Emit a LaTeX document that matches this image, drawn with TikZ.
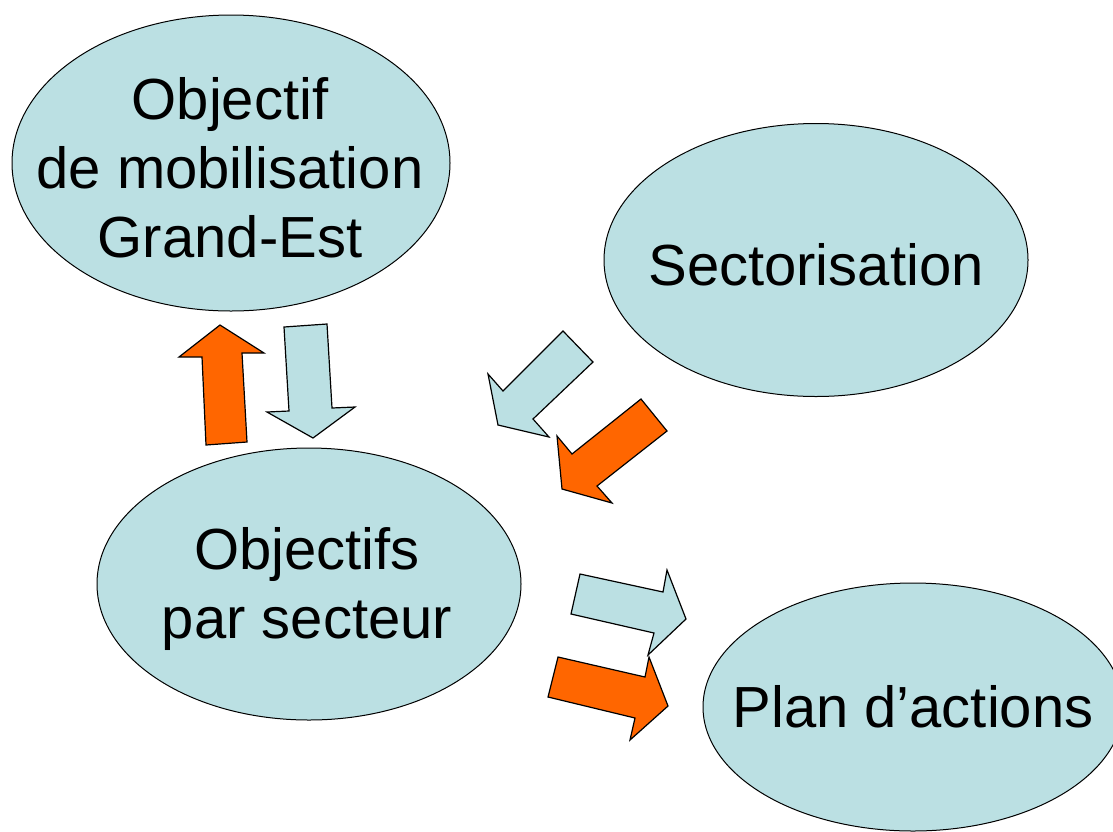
\documentclass[tikz,border=0pt]{standalone}
\usepackage{fontspec}
\setmainfont{Liberation Sans}
\usetikzlibrary{shapes.geometric}

\definecolor{paleblue}{HTML}{BBE0E3}
\definecolor{flame}{HTML}{FF6600}

\tikzset{
    bubble/.style={ellipse, draw=black, fill=paleblue, line width=1pt, inner sep=0pt},
    bubbletext/.style={align=center, inner sep=0pt, font=\fontsize{58}{69}\selectfont},
    bluearrow/.style={fill=paleblue, draw=black, line width=1.2pt},
    orangearrow/.style={fill=flame, draw=black, line width=1.2pt}
}

\begin{document}
\begin{tikzpicture}[x=1pt, y=-1pt]
    \useasboundingbox (0,0) rectangle (1113,831);

    % the four stages
    \node[bubble, minimum width=438pt, minimum height=296pt] (mobil) at (231,163) {};
    \node[bubble, minimum width=424pt, minimum height=273pt] (sector) at (816,260) {};
    \node[bubble, minimum width=424pt, minimum height=272pt] (secteur) at (309,584) {};
    \node[bubble, minimum width=420pt, minimum height=248pt] (plan) at (913,707) {};

    \node[bubbletext] at ([shift={(-1,5)}]mobil.center) {Objectif\\de mobilisation\\Grand-Est};
    \node[bubbletext] at ([shift={(0,5)}]sector.center) {Sectorisation};
    \node[bubbletext] at ([shift={(-2,5)}]secteur.center) {Objectifs\\par secteur};
    \node[bubbletext] at ([shift={(0,0)}]plan.center) {Plan d’actions};

    % block arrows between mobilisation and secteur
    \filldraw[orangearrow] (220,325) -- (264,353) -- (242,353) -- (247,442) -- (206,445) -- (202,357) -- (179,357) -- cycle;
    \filldraw[bluearrow] (284,327) -- (327,324) -- (332,408) -- (355,407) -- (313,438) -- (267,412) -- (289,411) -- cycle;

    % block arrows from sectorisation
    \filldraw[bluearrow] (563,331) -- (593,362) -- (533,419) -- (549,437) -- (498,425) -- (488,374) -- (503,391) -- cycle;
    \filldraw[orangearrow] (641,399) -- (667,431) -- (597,486) -- (612,503) -- (562,489) -- (557,436) -- (572,454) -- cycle;

    % block arrows towards the plan
    \filldraw[bluearrow] (580,574) -- (663,592) -- (667,570) -- (686,619) -- (648,655) -- (654,633) -- (571,614) -- cycle;
    \filldraw[orangearrow] (558,657) -- (645,677) -- (649,657) -- (668,706) -- (630,740) -- (635,718) -- (548,697) -- cycle;
\end{tikzpicture}
\end{document}
